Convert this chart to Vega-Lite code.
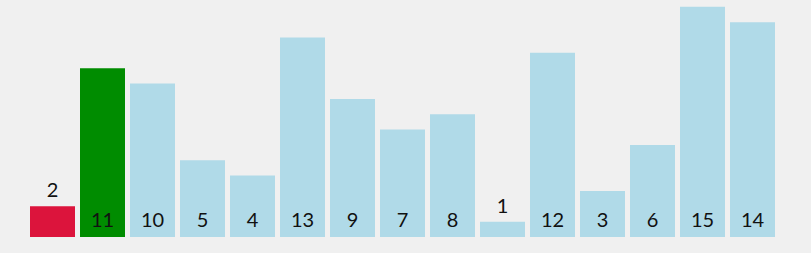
{
  "$schema": "https://vega.github.io/schema/vega-lite/v6.json",
  "width": 811,
  "height": 253,
  "autosize": "none",
  "padding": 0,
  "background": "#f0f0f0",
  "config": {"view": {"stroke": null}},
  "data": {"values": [
    {"i": 0, "v": 2, "s": "pivot"},
    {"i": 1, "v": 11, "s": "current"},
    {"i": 2, "v": 10, "s": "normal"},
    {"i": 3, "v": 5, "s": "normal"},
    {"i": 4, "v": 4, "s": "normal"},
    {"i": 5, "v": 13, "s": "normal"},
    {"i": 6, "v": 9, "s": "normal"},
    {"i": 7, "v": 7, "s": "normal"},
    {"i": 8, "v": 8, "s": "normal"},
    {"i": 9, "v": 1, "s": "normal"},
    {"i": 10, "v": 12, "s": "normal"},
    {"i": 11, "v": 3, "s": "normal"},
    {"i": 12, "v": 6, "s": "normal"},
    {"i": 13, "v": 15, "s": "normal"},
    {"i": 14, "v": 14, "s": "normal"}
  ]},
  "encoding": {
    "x": {"field": "i", "type": "ordinal", "axis": null,
          "scale": {"range": [27.5, 777.5], "paddingInner": 0.1, "paddingOuter": 0.05}}
  },
  "layer": [
    {
      "mark": {"type": "bar"},
      "encoding": {
        "y": {"field": "v", "type": "quantitative", "axis": null,
              "scale": {"domain": [0, 15], "range": [237, 6.8], "nice": false, "zero": true}},
        "color": {"field": "s", "type": "nominal", "legend": null,
                  "scale": {"domain": ["pivot", "current", "normal"], "range": ["#dc143c", "#008c00", "#b0dae8"]}}
      }
    },
    {
      "transform": [{"filter": "datum.v > 2"}],
      "mark": {"type": "text", "baseline": "alphabetic", "dy": -10, "font": "Lato", "fontSize": 20, "color": "#111111"},
      "encoding": {
        "y": {"datum": 0, "type": "quantitative", "scale": {"domain": [0, 15], "range": [237, 6.8], "nice": false, "zero": true}},
        "text": {"field": "v", "type": "quantitative"}
      }
    },
    {
      "transform": [{"filter": "datum.v <= 2"}],
      "mark": {"type": "text", "baseline": "alphabetic", "dy": -9, "font": "Lato", "fontSize": 20, "color": "#111111"},
      "encoding": {
        "y": {"field": "v", "type": "quantitative"},
        "text": {"field": "v", "type": "quantitative"}
      }
    }
  ]
}
